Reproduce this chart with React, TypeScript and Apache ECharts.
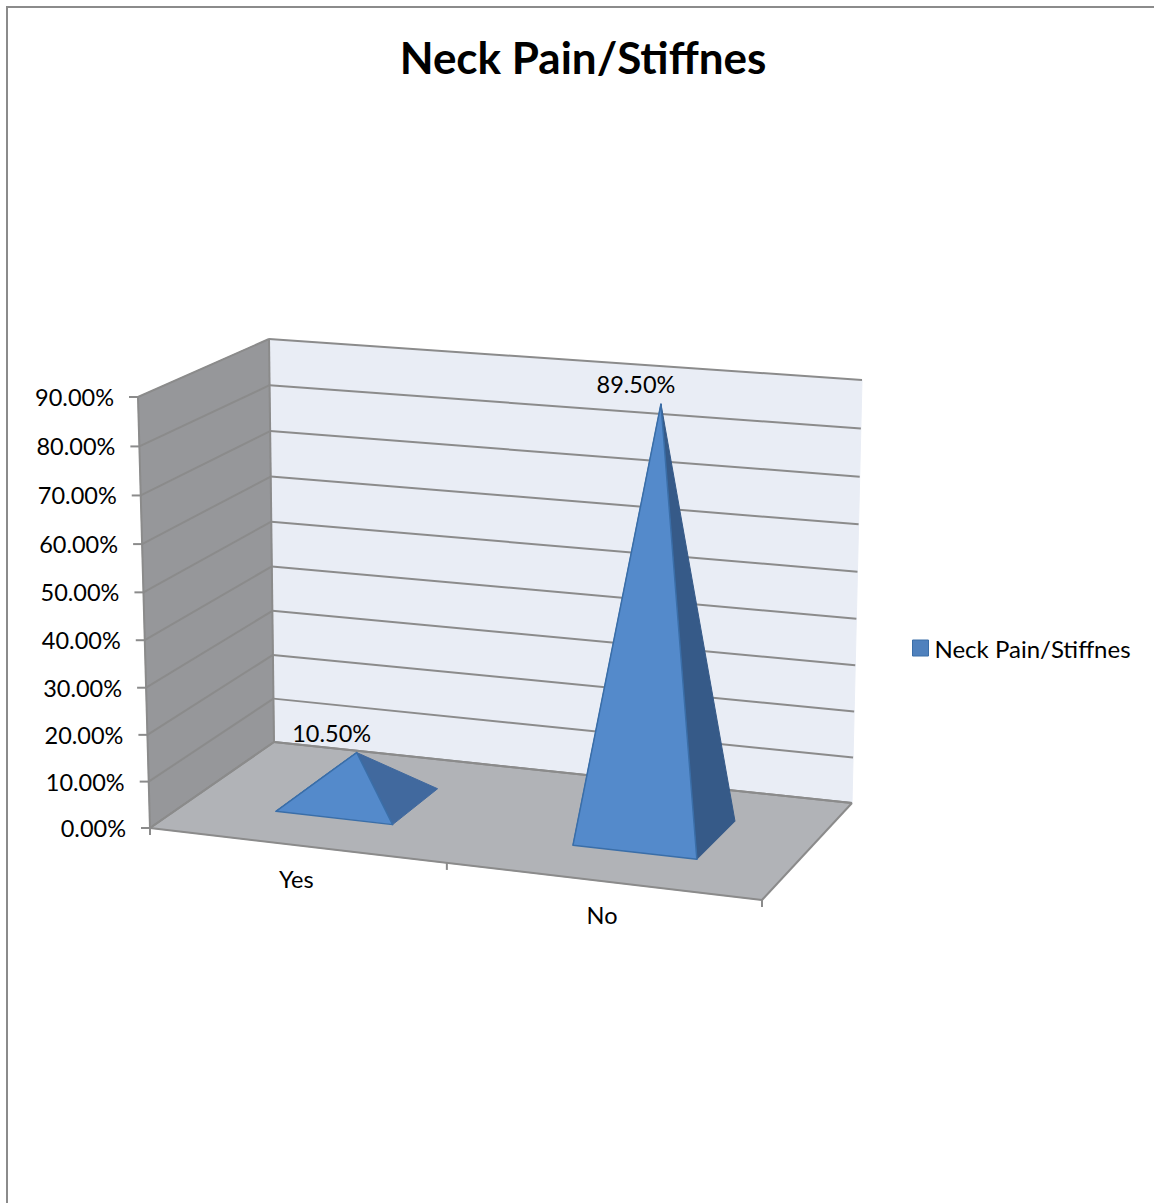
import React, { useEffect, useRef } from "react";
import * as echarts from "echarts";

const seriesName = "Neck Pain/Stiffnes";
const categories = ["Yes", "No"];
const shareValues = [10.5, 89.5];
const valueTicks = [0, 10, 20, 30, 40, 50, 60, 70, 80, 90];
const tickLabels = ["0.00%", "10.00%", "20.00%", "30.00%", "40.00%", "50.00%", "60.00%", "70.00%", "80.00%", "90.00%"];

const FONT = "Lato, 'Noto Sans', sans-serif";
const LABEL_FONT = `23.5px ${FONT}`;
const LINE = "#8b8b8b";
const RIGHT_FACE = ["#41699e", "#365a88"];

// Screen corners of the 3D box: [x, y], front/back, bottom/top, left/right.
const BOX = {
  fbl: [150, 828], fbr: [762, 900], bbl: [274, 742], bbr: [852, 803],
  ftl: [138, 397], ftr: [776, 448], btl: [269, 339], btr: [862, 380],
};
const persp = (t: number, a: number) => (t * a) / (t * a + 1 - t);
const mix = (p: number[], q: number[], t: number) => [p[0] + (q[0] - p[0]) * t, p[1] + (q[1] - p[1]) * t];

// u: along the categories, v: along the values, z: depth; each in 0..1.
function project(u: number, v: number, z: number) {
  const fu = persp(u, 0.942);
  const fv = persp(v, 0.965);
  const bottom = mix(mix(BOX.fbl, BOX.fbr, fu), mix(BOX.bbl, BOX.bbr, fu), z);
  const top = mix(mix(BOX.ftl, BOX.ftr, fu), mix(BOX.btl, BOX.btr, fu), z);
  return mix(bottom, top, fv);
}

// Reads a data point through the cartesian axes and normalises it to the grid.
function toUnit(api: any, params: any, category: number, value: number) {
  const cs = params.coordSys;
  const p = api.coord([category, value]);
  return [(p[0] - cs.x) / cs.width, (cs.y + cs.height - p[1]) / cs.height];
}

const poly = (points: number[][], fill: string, stroke = fill, lineWidth = 1) => ({
  type: "polygon",
  shape: { points },
  style: { fill, stroke, lineWidth, lineJoin: "round" },
});
const seg = (a: number[], b: number[]) => ({
  type: "line",
  shape: { x1: a[0], y1: a[1], x2: b[0], y2: b[1] },
  style: { stroke: LINE, lineWidth: 2 },
});
const label = (text: string, x: number, y: number, align: string) => ({
  type: "text",
  style: { text, x, y, align, verticalAlign: "middle", fill: "#000", font: LABEL_FONT },
});

function renderWalls() {
  const children = [
    poly([project(0, 0, 1), project(1, 0, 1), project(1, 1, 1), project(0, 1, 1)], "#e9edf5"),
    poly([project(0, 0, 0), project(0, 0, 1), project(0, 1, 1), project(0, 1, 0)], "#96979a"),
    poly([project(0, 0, 0), project(1, 0, 0), project(1, 0, 1), project(0, 0, 1)], "#b1b3b7"),
    seg(project(0, 1, 0), project(0, 0, 0)),
    seg(project(0, 0, 0), project(1, 0, 0)),
    seg(project(1, 0, 0), project(1, 0, 1)),
    seg(project(1, 0, 1), project(0, 0, 1)),
    seg(project(0, 0, 1), project(0, 0, 0)),
    seg(project(0, 1, 1), project(0, 0, 1)),
  ];
  return { type: "group", children };
}

function renderValueTick(params: any, api: any) {
  const [, v] = toUnit(api, params, 0, api.value(0));
  const front = project(0, v, 0);
  const left = project(0, v, 1);
  const right = project(1, v, 1);
  return {
    type: "group",
    children: [
      seg(front, left),
      seg(left, right),
      seg(front, [front[0] - 9, front[1]]),
      label(tickLabels[params.dataIndex], front[0] - 24, front[1], "right"),
    ],
  };
}

function renderCategoryTick(params: any, api: any) {
  const band = api.size([1, 0])[0] / params.coordSys.width;
  const [centre] = toUnit(api, params, params.dataIndex, 0);
  const mid = project(centre, 0, 0);
  const children: any[] = [label(categories[params.dataIndex], mid[0], mid[1] + 34, "center")];
  const edges = params.dataIndex === 0 ? [centre - band / 2, centre + band / 2] : [centre + band / 2];
  edges.forEach((u) => {
    const p = project(u, 0, 0);
    children.push(seg(p, [p[0], p[1] + 7]));
  });
  return { type: "group", children };
}

function renderPyramid(params: any, api: any) {
  const band = api.size([1, 0])[0] / params.coordSys.width;
  const [cu, v] = toUnit(api, params, params.dataIndex, api.value(1));
  const u = cu + 0.003;
  const half = band * 0.2;
  const apex = project(u, v, 0.51);
  const fl = project(u - half, 0, 0.31);
  const fr = project(u + half, 0, 0.31);
  const bl = project(u - half, 0, 0.71);
  const br = project(u + half, 0, 0.71);
  const text = `${api.value(1).toFixed(2)}%`;
  return {
    type: "group",
    children: [
      poly([bl, fl, apex], "#548acb", "#3f74b3"),
      poly([fr, br, apex], RIGHT_FACE[params.dataIndex], RIGHT_FACE[params.dataIndex]),
      poly([fl, fr, apex], "#548acb", "#3a6ea8", 1.5),
      label(text, apex[0] - 25, apex[1] - 20, "center"),
    ],
  };
}

export default function App() {
  const ref = useRef<HTMLDivElement>(null);
  useEffect(() => {
    const chart = echarts.init(ref.current!, undefined, { renderer: "svg" });
    chart.setOption({
      animation: false,
      backgroundColor: "#fff",
      title: {
        text: seriesName,
        left: 578,
        top: 30,
        textAlign: "center",
        textStyle: { fontFamily: FONT, fontWeight: "bold", fontSize: 44, color: "#000" },
      },
      legend: {
        data: [seriesName],
        left: 912,
        top: 636,
        itemWidth: 16,
        itemHeight: 16,
        icon: "rect",
        padding: 0,
        itemStyle: { color: "#4f81bd", borderColor: "#3a6ea8", borderWidth: 1 },
        textStyle: { fontFamily: FONT, fontSize: 24, color: "#000", padding: [0, 0, 0, 1] },
      },
      grid: { left: 150, top: 397, width: 612, height: 431 },
      xAxis: { type: "category", data: categories, show: false },
      yAxis: { type: "value", min: 0, max: 90, interval: 10, show: false },
      graphic: [
        {
          type: "polyline",
          silent: true,
          shape: { points: [[7, 1203], [7, 7], [1154, 7]] },
          style: { stroke: LINE, lineWidth: 2, fill: "none" },
        },
      ],
      series: [
        { type: "custom", name: "walls", data: [[0]], renderItem: renderWalls, silent: true, clip: false },
        {
          type: "custom",
          name: "value ticks",
          encode: { y: 0 },
          data: valueTicks.map((t) => [t]),
          renderItem: renderValueTick,
          silent: true,
        },
        {
          type: "custom",
          name: "category ticks",
          data: categories.map((_, i) => [i]),
          renderItem: renderCategoryTick,
          silent: true,
        },
        {
          type: "custom",
          name: seriesName,
          itemStyle: { color: "#4f81bd" },
          encode: { x: 0, y: 1 },
          data: shareValues.map((v, i) => [i, v]),
          renderItem: renderPyramid,
          silent: true,
        },
      ],
    });
    return () => chart.dispose();
  }, []);
  return <div ref={ref} style={{ position: "absolute", left: 0, top: 0, width: 1154, height: 1203 }} />;
}
